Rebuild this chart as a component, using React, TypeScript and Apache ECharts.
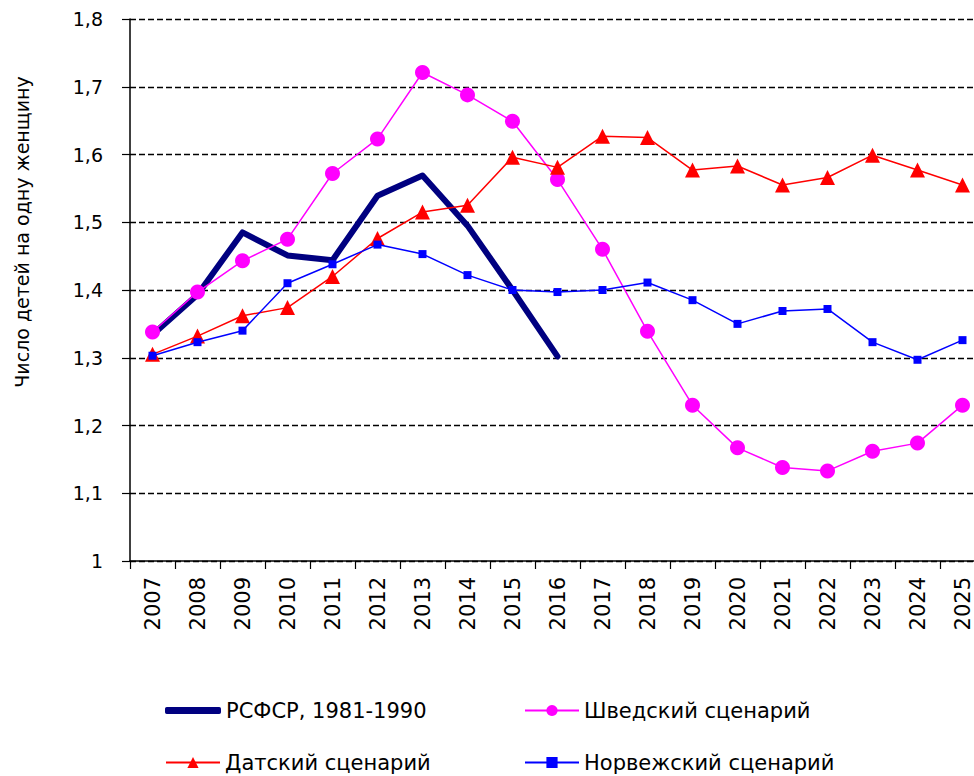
import React, { useEffect, useRef } from "react";
import * as echarts from "echarts";

const years = ["2007","2008","2009","2010","2011","2012","2013","2014","2015","2016","2017","2018","2019","2020","2021","2022","2023","2024","2025"];
const rsfsr = [1.334, 1.393, 1.485, 1.451, 1.444, 1.539, 1.569, 1.495, 1.40, 1.302, null, null, null, null, null, null, null, null, null];
const swedish = [1.338, 1.397, 1.443, 1.475, 1.572, 1.623, 1.721, 1.688, 1.649, 1.563, 1.46, 1.339, 1.23, 1.167, 1.138, 1.133, 1.162, 1.174, 1.23];
const danish = [1.305, 1.332, 1.362, 1.374, 1.42, 1.476, 1.515, 1.525, 1.596, 1.581, 1.627, 1.625, 1.577, 1.583, 1.555, 1.566, 1.599, 1.577, 1.555];
const norwegian = [1.303, 1.323, 1.34, 1.41, 1.438, 1.467, 1.453, 1.422, 1.40, 1.397, 1.40, 1.411, 1.385, 1.35, 1.369, 1.372, 1.323, 1.297, 1.326];
const seriesNames = ["РСФСР, 1981-1990", "Шведский сценарий", "Датский сценарий", "Норвежский сценарий"];
const yTitle = "Число детей на одну женщину";

const FONT = "DejaVu Sans";

export default function App() {
  const ref = useRef<HTMLDivElement>(null);
  useEffect(() => {
    if (!ref.current) return;
    const chart = echarts.init(ref.current, null, { renderer: "svg" });
    const legendBase = (item: any, left: number, top: number, extra: any = {}) => ({
      data: [item],
      left,
      top,
      orient: "horizontal",
      itemWidth: 54,
      itemHeight: 14,
      itemGap: 0,
      padding: 0,
      textStyle: { fontFamily: FONT, fontSize: 21, color: "#000" },
      selectedMode: false,
      ...extra,
    });
    chart.setOption({
      animation: false,
      backgroundColor: "#fff",
      grid: { left: 130, top: 19, bottom: 215, width: 855, containLabel: false, outerBoundsMode: "none" },
      xAxis: {
        type: "category",
        data: years,
        boundaryGap: true,
        axisLine: { lineStyle: { color: "#000", width: 1.5 } },
        axisTick: { show: true, length: 8, lineStyle: { color: "#000", width: 1.2 } },
        axisLabel: { rotate: 90, margin: 16, fontFamily: FONT, fontSize: 21, color: "#000", interval: 0 },
        splitLine: { show: false },
      },
      yAxis: {
        type: "value",
        min: 1,
        max: 1.8,
        interval: 0.1,
        axisLine: { show: true, lineStyle: { color: "#000", width: 1.5 } },
        axisTick: { show: true, length: 8, lineStyle: { color: "#000", width: 1.2 } },
        axisLabel: {
          margin: 27,
          fontFamily: FONT,
          fontSize: 19,
          color: "#000",
          formatter: (v: number) => String(Math.round(v * 10) / 10).replace(".", ","),
        },
        splitLine: { show: true, lineStyle: { color: "#000", type: [6, 3], width: 1.4 } },
      },
      legend: [
        legendBase(
          { name: seriesNames[0], icon: "roundRect", itemStyle: { color: "#000080" } },
          165,
          700,
          { itemHeight: 7, itemWidth: 56 }
        ),
        legendBase(seriesNames[1], 524, 700),
        legendBase(seriesNames[2], 165, 752),
        legendBase(seriesNames[3], 524, 752),
      ],
      graphic: [
        {
          type: "text",
          x: 22,
          y: 232,
          rotation: Math.PI / 2,
          style: {
            text: yTitle,
            fontFamily: FONT,
            fontSize: 19,
            fill: "#000",
            align: "center",
            verticalAlign: "middle",
          },
        },
      ],
      series: [
        {
          name: seriesNames[0],
          type: "line",
          data: rsfsr,
          symbol: "none",
          lineStyle: { color: "#000080", width: 6, join: "round", cap: "round" },
          itemStyle: { color: "#000080" },
          z: 2,
        },
        {
          name: seriesNames[1],
          type: "line",
          data: swedish,
          symbol: "circle",
          symbolSize: 15,
          lineStyle: { color: "#FF00FF", width: 1.5 },
          itemStyle: { color: "#FF00FF" },
          z: 3,
        },
        {
          name: seriesNames[2],
          type: "line",
          data: danish,
          symbol: "triangle",
          symbolSize: 15,
          lineStyle: { color: "#FF0000", width: 1.5 },
          itemStyle: { color: "#FF0000" },
          z: 4,
        },
        {
          name: seriesNames[3],
          type: "line",
          data: norwegian,
          symbol: "rect",
          symbolSize: 8,
          lineStyle: { color: "#0000FF", width: 1.5 },
          itemStyle: { color: "#0000FF" },
          z: 5,
        },
      ],
    });
    return () => chart.dispose();
  }, []);
  return (
    <div
      ref={ref}
      style={{ position: "absolute", left: 0, top: 0, width: 974, height: 776 }}
    />
  );
}
